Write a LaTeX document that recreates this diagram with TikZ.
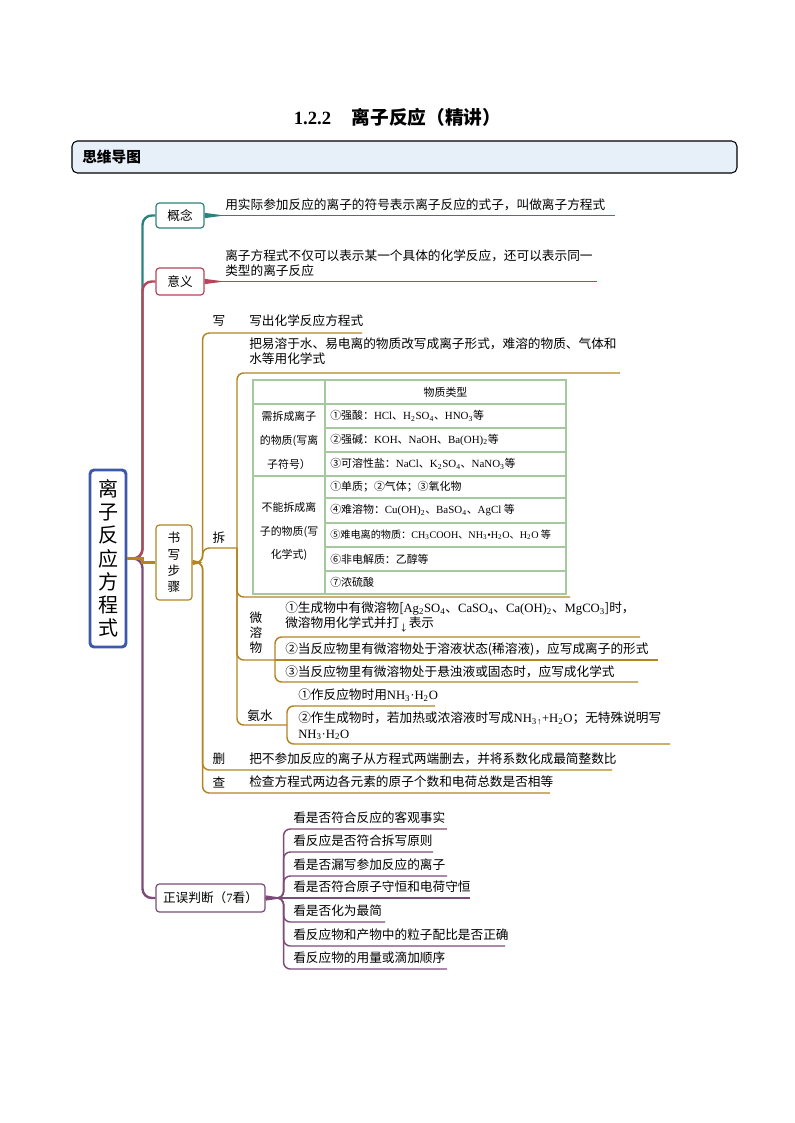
\documentclass[tikz,border=0pt]{standalone}
\usepackage{fontspec}
\setmainfont{Noto Sans CJK SC}
\newfontfamily\lat{Liberation Serif}
\usepackage{xcolor}

\definecolor{gnc}{HTML}{2E827D}
\definecolor{yyc}{HTML}{B4465A}
\definecolor{bxc}{HTML}{B3841F}
\definecolor{zqc}{HTML}{7D4B78}
\definecolor{rootc}{HTML}{3C5AAA}
\definecolor{hdfill}{HTML}{E7EFF8}
\definecolor{tblc}{HTML}{A6C89E}

\newcommand{\fm}[1]{{\lat #1}}
\newcommand{\dn}[1]{\textsubscript{#1}}

\tikzset{
  every node/.style={inner sep=0pt},
  box/.style={draw, rounded corners=2.5pt, fill=white, line width=0.9pt, align=center, font=\fontsize{9.5}{12}\selectfont},
  leaf/.style={anchor=west, align=left, font=\fontsize{9.5}{11.5}\selectfont},
  cell/.style={align=center, font=\fontsize{8.2}{10}\selectfont},
  trunk/.style={line width=1.8pt, rounded corners=7pt},
  br/.style={line width=1.1pt, rounded corners=5pt},
}

\begin{document}
\begin{tikzpicture}[x=0.75pt, y=-0.75pt]
\useasboundingbox (0,0) rectangle (794,1123);

% title and header bar
\node[font=\fontsize{14}{16}\selectfont\bfseries] (title) at (397.5,117) {\fm{1.2.2}\hspace{1.1em}离子反应（精讲）};
\node[draw, rounded corners=4pt, fill=hdfill, line width=0.8pt, minimum width=498.75pt, minimum height=24pt] (hd) at (404.5,157) {};
\node[anchor=west, font=\fontsize{11}{13}\selectfont\bfseries] (hdt) at (82,157) {思维导图};

% root
\node[draw=rootc, line width=2.2pt, rounded corners=3pt, fill=white, minimum width=27pt, minimum height=132.75pt, align=center, font=\fontsize{15}{17.4}\selectfont] (root) at (108,558.5) {离\\子\\反\\应\\方\\程\\式};

% main boxes
\node[box, draw=gnc, minimum width=36pt, minimum height=18.75pt] (gn) at (180,215.5) {概念};
\node[box, draw=yyc, minimum width=36pt, minimum height=20.25pt] (yy) at (180,281.5) {意义};
\node[box, draw=bxc, minimum width=27pt, minimum height=56.25pt, font=\fontsize{9.5}{12.2}\selectfont] (bx) at (174,562.5) {书\\写\\步\\骤};
\node[box, draw=zqc, minimum width=81.75pt, minimum height=21pt] (zq) at (210.5,898) {正误判断（\fm{7}看）};

% branches from root
\draw[gnc, trunk] (root.east) -- ++(15,0) |- (gn.west);
\draw[yyc, trunk] (root.east) -- ++(15,0) |- (yy.west);
\draw[zqc, trunk] (root.east) -- ++(15,0) |- (zq.west);
\draw[bxc, line width=1.8pt] (root.east) -- ++(15,0) |- (bx.west);

% concept and meaning
\node[leaf] (gnt) at (225,205) {用实际参加反应的离子的符号表示离子反应的式子，叫做离子方程式};
\coordinate (gnEnd) at (615,215.5);
\draw[gnc, line width=1.1pt] (gn.east) -- (gnEnd);
\fill[gnc] ([yshift=2pt]gn.east) -- ([xshift=15pt]gn.east) -- ([yshift=-2pt]gn.east) -- cycle;

\node[leaf] (yyt) at (225,263.5) {离子方程式不仅可以表示某一个具体的化学反应，还可以表示同一\\类型的离子反应};
\coordinate (yyEnd) at (597,281.5);
\draw[yyc, line width=1.1pt] (yy.east) -- (yyEnd);
\fill[yyc] ([yshift=2pt]yy.east) -- ([xshift=15pt]yy.east) -- ([yshift=-2pt]yy.east) -- cycle;

% writing steps
\node[leaf, anchor=center] (xie) at (219,321) {写};
\node[leaf] (xiet) at (249,321) {写出化学反应方程式};
\coordinate (xieEnd) at (362,333);

\node[leaf, anchor=center] (chai) at (219,538) {拆};
\coordinate (chaiJ) at (237,548);

\node[leaf, anchor=center] (shan) at (219,759) {删};
\node[leaf] (shant) at (249,759) {把不参加反应的离子从方程式两端删去，并将系数化成最简整数比};
\coordinate (shanEnd) at (612,770);

\node[leaf, anchor=center] (cha) at (219,782) {查};
\node[leaf] (chat) at (249,782) {检查方程式两边各元素的原子个数和电荷总数是否相等};
\coordinate (chaEnd) at (550,793);

\fill[bxc] ([yshift=2pt]bx.east) -- ([xshift=7.5pt]bx.east) -- ([yshift=-2pt]bx.east) -- cycle;
\draw[bxc, br] (bx.east) -- ++(10,0) |- (xieEnd);
\draw[bxc, br] (bx.east) -- ++(10,0) |- (chaiJ);
\draw[bxc, br] (bx.east) -- ++(10,0) |- (shanEnd);
\draw[bxc, br] (bx.east) -- ++(10,0) |- (chaEnd);

% split into ions
\node[leaf] (c1t) at (249,351.5) {把易溶于水、易电离的物质改写成离子形式，难溶的物质、气体和\\水等用化学式};
\coordinate (c1End) at (620,373);
\coordinate (c2End) at (570,597);
\coordinate (wrJ) at (275,660);
\coordinate (asJ) at (287,725);
\draw[bxc, br] (chaiJ) |- (c1End);
\draw[bxc, br] (chaiJ) |- (c2End);
\draw[bxc, br] (chaiJ) |- (wrJ);
\draw[bxc, br] (chaiJ) |- (asJ);

% table of substances
\draw[tblc, line width=0.9pt] (253,380) rectangle (566,594);
\draw[tblc, line width=0.9pt] (325,380) -- (325,594)
  (253,404) -- (566,404) (253,476) -- (566,476)
  (325,428) -- (566,428) (325,452) -- (566,452)
  (325,498) -- (566,498) (325,523) -- (566,523)
  (325,547) -- (566,547) (325,571) -- (566,571);
\node[cell] (th) at (445.5,392) {物质类型};
\node[cell, font=\fontsize{8.2}{18}\selectfont] (tl1) at (289,440) {需拆成离子\\的物质(写离\\子符号）};
\node[cell, font=\fontsize{8.2}{17.6}\selectfont] (tl2) at (289,531.5) {不能拆成离\\子的物质(写\\化学式)};
\node[cell, anchor=west] (tr1) at (330,416) {①强酸：\fm{HCl}、\fm{H\dn{2}SO\dn{4}}、\fm{HNO\dn{3}}等};
\node[cell, anchor=west] (tr2) at (330,440) {②强碱：\fm{KOH}、\fm{NaOH}、\fm{Ba(OH)\dn{2}}等};
\node[cell, anchor=west] (tr3) at (330,464) {③可溶性盐：\fm{NaCl}、\fm{K\dn{2}SO\dn{4}}、\fm{NaNO\dn{3}}等};
\node[cell, anchor=west] (tr4) at (330,487) {①单质；②气体；③氧化物};
\node[cell, anchor=west] (tr5) at (330,510.5) {④难溶物：\fm{Cu(OH)\dn{2}}、\fm{BaSO\dn{4}}、\fm{AgCl} 等};
\node[cell, anchor=west, font=\fontsize{7.6}{10}\selectfont] (tr6) at (330,535) {⑤难电离的物质：\fm{CH\dn{3}COOH}、\fm{NH\dn{3}•H\dn{2}O}、\fm{H\dn{2}O} 等};
\node[cell, anchor=west] (tr7) at (330,559) {⑥非电解质：乙醇等};
\node[cell, anchor=west] (tr8) at (330,582.5) {⑦浓硫酸};

% slightly soluble
\node[leaf, anchor=center, align=center, font=\fontsize{9.5}{11.25}\selectfont] (wr) at (256,633) {微\\溶\\物};
\node[leaf] (w1t) at (285,617) {①生成物中有微溶物[\fm{Ag\dn{2}SO\dn{4}}、\fm{CaSO\dn{4}}、\fm{Ca(OH)\dn{2}}、\fm{MgCO\dn{3}}]时，\\微溶物用化学式并打\dn{↓}表示};
\node[leaf] (w2t) at (285,649) {②当反应物里有微溶物处于溶液状态(稀溶液)，应写成离子的形式};
\node[leaf] (w3t) at (285,672) {③当反应物里有微溶物处于悬浊液或固态时，应写成化学式};
\coordinate (w1End) at (640,637);
\coordinate (w2End) at (658,660);
\coordinate (w3End) at (638,682);
\draw[bxc, br] (wrJ) |- (w1End);
\draw[bxc, br] (wrJ) -- (w2End);
\draw[bxc, br] (wrJ) |- (w3End);

% ammonia water
\node[leaf, anchor=center] (as) at (260,716) {氨水};
\node[leaf] (a1t) at (298,695) {①作反应物时用\fm{NH\dn{3}·H\dn{2}O}};
\node[leaf] (a2t) at (298,726) {②作生成物时，若加热或浓溶液时写成\fm{NH\dn{3}\dn{↑}+H\dn{2}O}；无特殊说明写\\\fm{NH\dn{3}·H\dn{2}O}};
\coordinate (a1End) at (435,706);
\coordinate (a2End) at (670,744);
\draw[bxc, br] (asJ) |- (a1End);
\draw[bxc, br] (asJ) |- (a2End);

% right or wrong (7 checks)
\node[leaf] (z1t) at (293,818) {看是否符合反应的客观事实};
\node[leaf] (z2t) at (293,841) {看反应是否符合拆写原则};
\node[leaf] (z3t) at (293,865) {看是否漏写参加反应的离子};
\node[leaf] (z4t) at (293,887) {看是否符合原子守恒和电荷守恒};
\node[leaf] (z5t) at (293,911) {看是否化为最简};
\node[leaf] (z6t) at (293,935) {看反应物和产物中的粒子配比是否正确};
\node[leaf] (z7t) at (293,958) {看反应物的用量或滴加顺序};
\coordinate (z1End) at (447,829);
\coordinate (z2End) at (433,852);
\coordinate (z3End) at (447,876);
\coordinate (z4End) at (470,898);
\coordinate (z5End) at (385,922);
\coordinate (z6End) at (505,946);
\coordinate (z7End) at (447,969);
\fill[zqc] ([yshift=2pt]zq.east) -- ([xshift=13.5pt]zq.east) -- ([yshift=-2pt]zq.east) -- cycle;
\draw[zqc, br] (zq.east) -- ++(18,0) |- (z1End);
\draw[zqc, br] (zq.east) -- ++(18,0) |- (z2End);
\draw[zqc, br] (zq.east) -- ++(18,0) |- (z3End);
\draw[zqc, br] (zq.east) -- (z4End);
\draw[zqc, br] (zq.east) -- ++(18,0) |- (z5End);
\draw[zqc, br] (zq.east) -- ++(18,0) |- (z6End);
\draw[zqc, br] (zq.east) -- ++(18,0) |- (z7End);

\end{tikzpicture}
\end{document}
